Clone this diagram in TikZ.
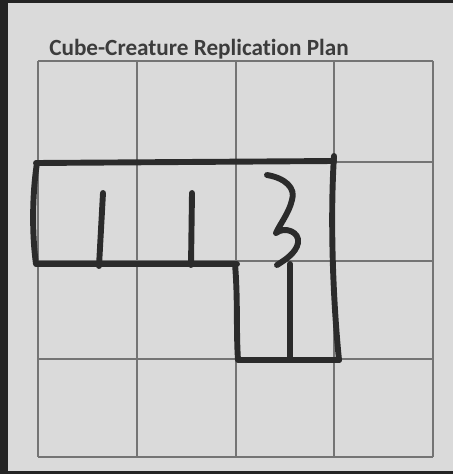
\documentclass[tikz,border=0pt]{standalone}
\usepackage{fontspec}
\setmainfont{Carlito}[Ligatures=NoCommon]
\usetikzlibrary{positioning}
\definecolor{paper}{HTML}{DADADA}
\definecolor{ink}{HTML}{2B2B2B}
\definecolor{gridgray}{HTML}{747474}
\definecolor{titlegray}{HTML}{3C3C3C}

\begin{document}
\begin{tikzpicture}[x=0.025cm, y=-0.025cm,
  sheet/.style={fill=paper, draw=none},
  gridline/.style={draw=gridgray, line width=0.85pt},
  pen/.style={draw=ink, line width=4.2pt, line cap=round, line join=round},
  title/.style={font=\fontsize{16.5}{20}\selectfont\bfseries, text=titlegray, inner sep=0pt, anchor=base west}
]
  \useasboundingbox (0,0) rectangle (453,474);
  \path[sheet] (0,0) rectangle (453,474);
  % dark edges round the sheet
  \fill[ink!85!black] (0,0) rectangle (8,474);
  \fill[ink!85!black] (0,0) rectangle (453,3);
  \fill[ink!85!black] (0,471) rectangle (453,474);
  \node[title] (plan) at (49,55) {Cube-Creature Replication Plan};
  % 4x4 grid
  \foreach \x in {38,137,236,334,433}{
    \draw[gridline] (\x,61) -- (\x,457);}
  \foreach \y in {61,162,261,359,457}{
    \draw[gridline] (38,\y) -- (433,\y);}
  % hand drawn outline
  \draw[pen] (36,163) -- (334,161);
  \draw[pen] (37,163) .. controls (32,195) and (32,235) .. (36,264) -- (237,264);
  \draw[pen] (235,264) .. controls (238,300) and (236,330) .. (238,360) -- (339,360);
  \draw[pen] (334,156) .. controls (330,220) and (333,300) .. (339,360);
  \draw[pen] (290,264) -- (290,360);
  % numbers
  \draw[pen] (103,193) -- (99,266);
  \draw[pen] (192,193) -- (191,265);
  \draw[pen] (267,175) .. controls (285,178) and (296,188) .. (292,200)
    .. controls (289,213) and (280,224) .. (276,233)
    .. controls (285,226) and (300,232) .. (298,243)
    .. controls (296,253) and (285,260) .. (277,265);
\end{tikzpicture}
\end{document}
